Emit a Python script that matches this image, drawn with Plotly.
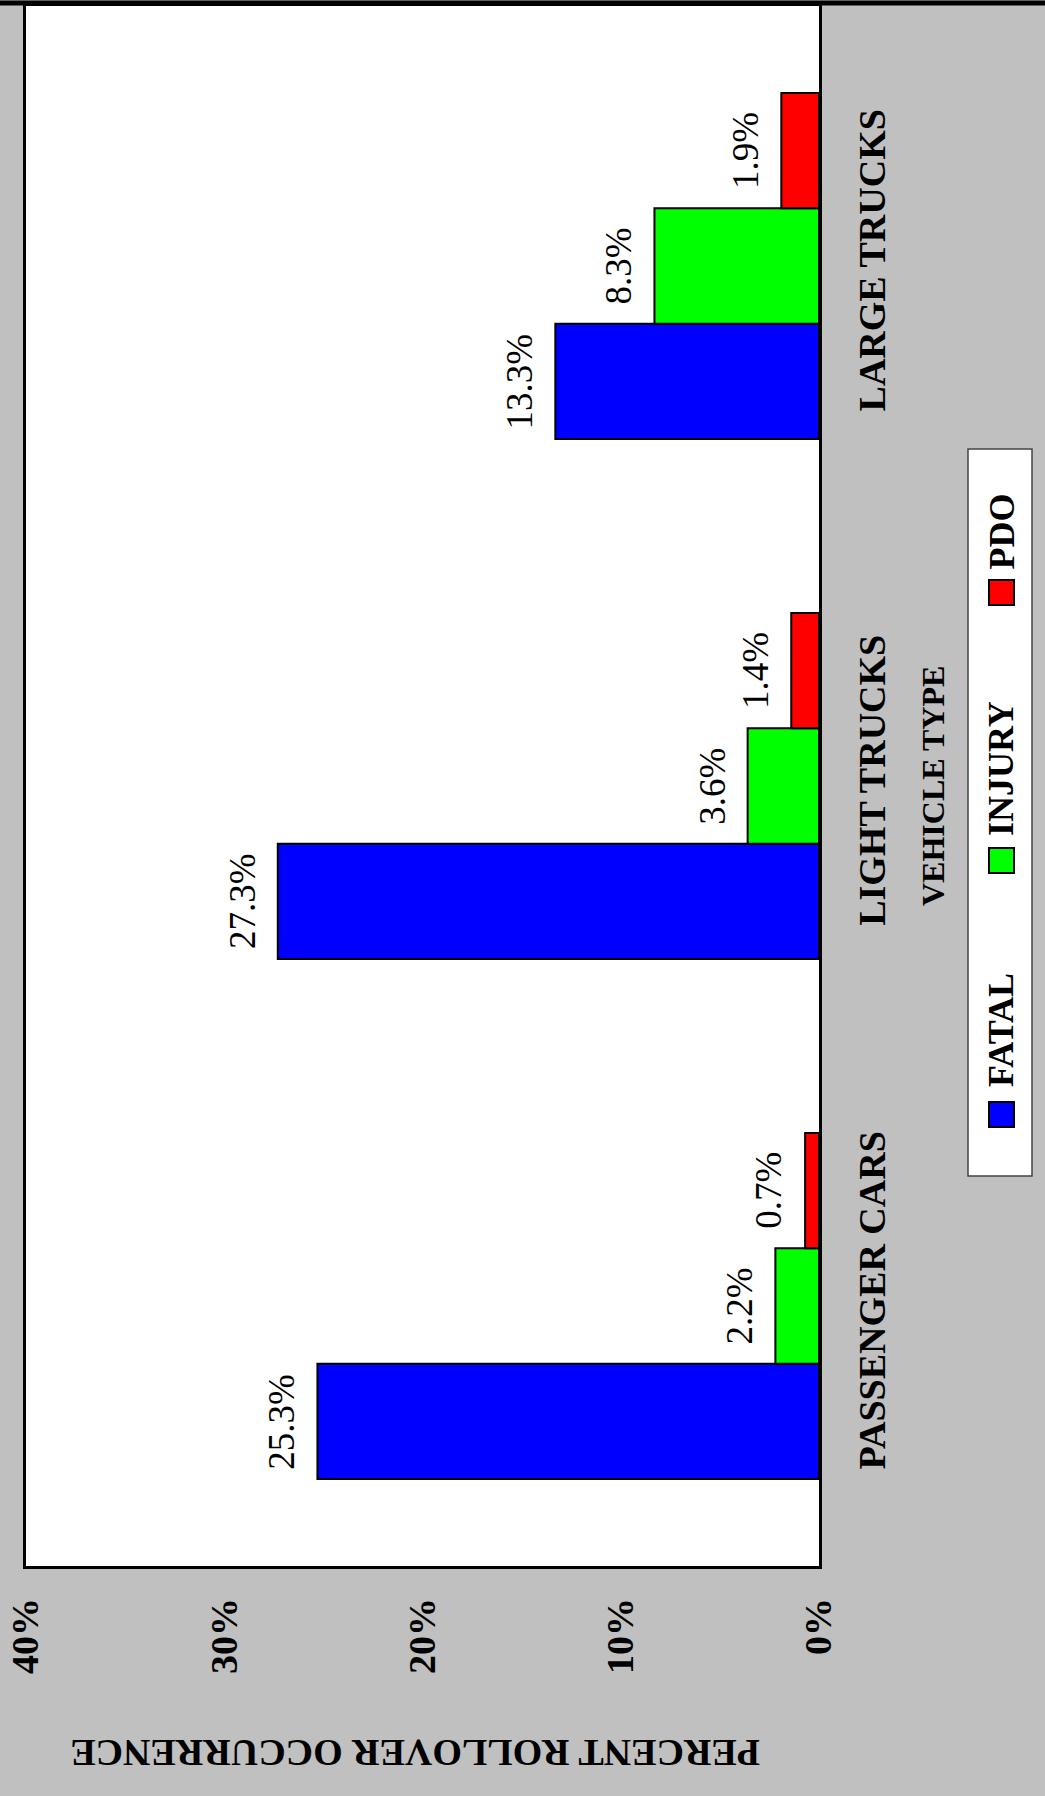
import plotly.graph_objects as go

# ---- data ----
categories = ["PASSENGER CARS", "LIGHT TRUCKS", "LARGE TRUCKS"]
fatal = [25.3, 27.3, 13.3]
injury = [2.2, 3.6, 8.3]
pdo = [0.7, 1.4, 1.9]
series_names = ["FATAL", "INJURY", "PDO"]
series_colors = ["#0000FF", "#00FF00", "#FF0000"]
tick_values = [0, 10, 20, 30, 40]
tick_labels = ["0%", "10%", "20%", "30%", "40%"]
value_title = "PERCENT ROLLOVER OCCURRENCE"
category_title = "VEHICLE TYPE"

series_values = [fatal, injury, pdo]

# ---- geometry ----
W, H = 1045, 1796
L, R, T, B = 26, 226, 6, 230
pw = W - L - R
ph = H - T - B


def px(x):
    return (x - L) / pw


def py(y):
    return (H - B - y) / ph


FONT = "Liberation Serif, Times New Roman, Times, serif"
BARGAP = 0.335

fig = go.Figure()
for name, vals, col in zip(series_names, series_values, series_colors):
    fig.add_trace(go.Bar(
        y=categories, x=vals, orientation="h", name=name,
        marker=dict(color=col, line=dict(color="black", width=2)),
        showlegend=False,
    ))

# value labels
n = len(series_values)
w = (1 - BARGAP) / n
for k, vals in enumerate(series_values):
    for i, v in enumerate(vals):
        fig.add_annotation(
            x=v, y=i + (k - (n - 1) / 2) * w, xref="x", yref="y",
            text=f"{v:.1f}%", textangle=-90, showarrow=False,
            xanchor="center", yanchor="middle", xshift=-36,
            font=dict(family=FONT, size=37, color="black", weight="normal", style="normal"),
        )

# axis titles
fig.add_annotation(
    x=px(415), y=py(1753), xref="paper", yref="paper",
    text=value_title, textangle=180, showarrow=False,
    xanchor="center", yanchor="middle",
    font=dict(family=FONT, size=38, color="black", weight="bold"),
)
fig.add_annotation(
    x=px(933), y=py(786), xref="paper", yref="paper",
    text=category_title, textangle=-90, showarrow=False,
    xanchor="center", yanchor="middle",
    font=dict(family=FONT, size=32, color="black", weight="bold"),
)

# legend (rotated, built by hand)
shapes = []
shapes.append(dict(type="rect", xref="paper", yref="paper",
                   x0=px(968), x1=px(1032), y0=py(449), y1=py(1176),
                   fillcolor="white", line=dict(color="#444444", width=1.5), layer="above"))
legend_items = [
    # (square center y, text center y)
    (1114.5, 1030),
    (860.5, 769),
    (592.5, 531.5),
]
for (sq_y, tx_y), name, col in zip(legend_items, series_names, series_colors):
    shapes.append(dict(type="rect", xref="paper", yref="paper",
                       x0=px(989), x1=px(1014), y0=py(sq_y - 12.5), y1=py(sq_y + 12.5),
                       fillcolor=col, line=dict(color="black", width=2), layer="above"))
    fig.add_annotation(
        x=px(1001), y=py(tx_y), xref="paper", yref="paper",
        text=name, textangle=-90, showarrow=False,
        xanchor="center", yanchor="middle",
        font=dict(family=FONT, size=36, color="black", weight="bold"),
    )

# top black border line
shapes.append(dict(type="line", xref="paper", yref="paper",
                   x0=px(0), x1=px(W), y0=py(3), y1=py(3),
                   line=dict(color="black", width=5), layer="above"))

fig.update_layout(
    width=W, height=H,
    margin=dict(l=L, r=R, t=T, b=B, pad=0),
    paper_bgcolor="#C0C0C0",
    plot_bgcolor="white",
    font=dict(family=FONT, color="black"),
    barmode="group",
    bargap=BARGAP,
    bargroupgap=0,
    showlegend=False,
    shapes=shapes,
    xaxis=dict(
        range=[40, 0], tickvals=tick_values, ticktext=tick_labels,
        tickangle=-90, showgrid=False, zeroline=False,
        showline=True, mirror=True, linecolor="black", linewidth=2.5,
        ticks="", ticklabelstandoff=14, automargin=False,
        tickfont=dict(family=FONT, size=38, color="black", weight="bold"),
    ),
    yaxis=dict(
        type="category", categoryorder="array", categoryarray=categories,
        range=[-0.5, 2.5], side="right", tickangle=-90,
        showgrid=False, zeroline=False,
        showline=True, mirror=True, linecolor="black", linewidth=2.5,
        ticks="", ticklabelstandoff=18, automargin=False,
        tickfont=dict(family=FONT, size=38, color="black", weight="bold"),
    ),
)

fig.write_html(
    "out.html",
    config={"displayModeBar": False},
    post_script="document.body.style.margin='0px';document.body.style.overflow='hidden';",
)
